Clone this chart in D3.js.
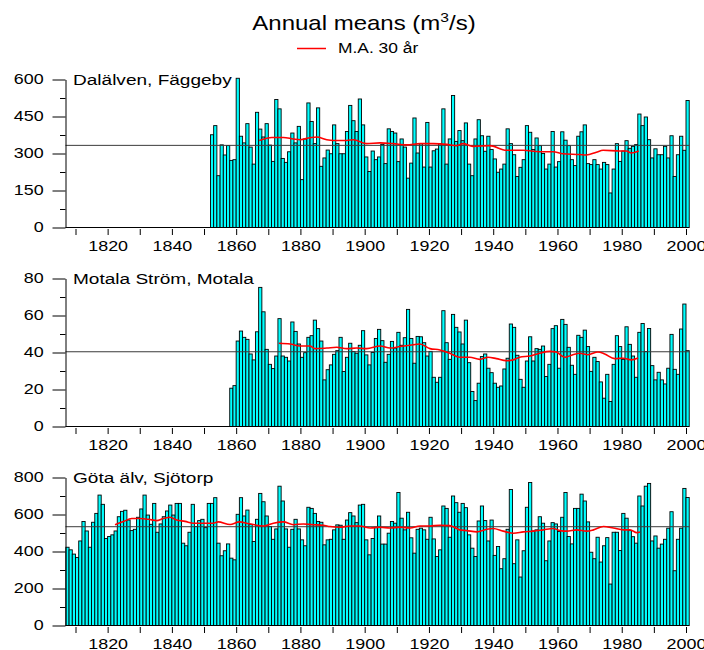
<!DOCTYPE html>
<html>
<head>
<meta charset="utf-8">
<script src="https://cdn.jsdelivr.net/npm/d3@7"></script>
<style>
  body { margin: 0; background: #fff; }
  svg { display: block; font-family: "Liberation Sans", Arial, Helvetica, sans-serif; }
</style>
</head>
<body>
<div id="chart"></div>
<script>
// ---- Annual mean discharge (m3/s) ----

// Dalälven, Fäggeby 1852-2000
const dalStart = 1852;
const dalFlow = [
    376, 413, 210, 335, 294, 332, 272, 275,
    605, 370, 343, 421, 326, 257, 467, 399, 367, 421,
    334, 268, 519, 481, 280, 264, 307, 383, 343, 410,
    194, 359, 505, 430, 340, 485, 248, 282, 314, 299,
    416, 340, 299, 299, 389, 495, 433, 389, 521, 416,
    286, 227, 310, 275, 286, 337, 259, 400, 389, 383,
    267, 359, 326, 200, 261, 444, 302, 340, 245, 426,
    245, 311, 318, 340, 481, 257, 359, 535, 349, 393,
    352, 424, 257, 210, 359, 437, 372, 309, 370, 316,
    278, 224, 237, 257, 400, 340, 295, 207, 244, 275,
    413, 386, 316, 363, 332, 300, 237, 257, 389, 245,
    267, 388, 354, 332, 275, 251, 370, 388, 416, 259,
    255, 275, 255, 237, 264, 255, 140, 237, 340, 268,
    310, 352, 321, 329, 336, 460, 413, 448, 356, 282,
    319, 295, 295, 329, 282, 372, 207, 295, 370, 313,
    515
];
const dalMaYears = [1867.2, 1871.1, 1874.7, 1877.8, 1879.9, 1883.0, 1885.1, 1888.2, 1890.2, 1894.4,
    1896.5, 1900.6, 1904.8, 1908.9, 1913.1, 1917.2, 1921.4, 1925.5, 1928.6, 1930.6, 1933.7, 1938.9,
    1944.1, 1949.3, 1954.5, 1958.6, 1961.7, 1966.9, 1969.0, 1972.1, 1974.2, 1979.4, 1981.4, 1983.0, 1985.3];
const dalMa = [353, 365, 365, 359, 356, 364, 367, 356, 353, 353,
    356, 340, 343, 340, 335, 340, 340, 337, 332, 340, 329, 332,
    313, 313, 307, 307, 299, 296, 294, 305, 313, 310, 310, 302, 310];
const dalMean = 333;

// Motala Ström, Motala 1858-2000
const motStart = 1858;
const motFlow = [
    20.7, 22.1,
    46.2, 51.6, 48.2, 47.1, 39.2, 36.0, 51.2, 75.2, 62.0, 41.7,
    33.6, 31.3, 38.1, 58.3, 38.1, 37.4, 35.4, 56.5, 51.4, 44.6,
    37.4, 39.9, 48.2, 49.1, 57.5, 52.9, 46.2, 25.2, 30.7, 33.3,
    39.0, 41.0, 48.2, 29.7, 37.4, 45.0, 40.5, 39.6, 43.9, 51.8,
    38.7, 33.3, 40.0, 47.6, 52.5, 46.4, 34.7, 39.0, 46.0, 42.4,
    50.9, 43.9, 48.0, 63.3, 47.6, 34.2, 48.7, 48.5, 45.3, 38.1,
    40.6, 26.6, 23.9, 26.6, 62.6, 45.3, 36.3, 60.6, 53.6, 51.1,
    44.6, 57.5, 34.5, 18.9, 14.0, 23.4, 37.8, 39.2, 31.5, 29.1,
    23.4, 21.2, 21.9, 31.1, 36.9, 55.4, 53.6, 38.5, 25.5, 21.2,
    35.4, 48.5, 35.4, 42.1, 41.7, 43.5, 27.0, 33.6, 52.9, 54.5,
    31.5, 57.9, 55.2, 42.8, 33.1, 28.2, 49.3, 48.2, 52.1, 43.2,
    29.8, 37.4, 35.1, 24.1, 15.3, 28.2, 13.5, 33.6, 49.1, 43.2,
    36.3, 53.9, 44.4, 38.1, 26.6, 50.9, 55.7, 40.5, 53.0, 32.9,
    25.2, 29.3, 25.2, 23.0, 31.5, 49.8, 30.9, 28.2, 52.7, 66.2,
    41.0
];
const motMaYears = [1873.3, 1876.8, 1879.9, 1883.0, 1884.5, 1888.2, 1891.3, 1894.4, 1897.5, 1900.6,
    1904.8, 1907.9, 1911.0, 1914.1, 1917.2, 1920.3, 1923.4, 1926.5, 1929.6, 1932.7, 1935.8, 1938.4,
    1941.0, 1944.1, 1946.2, 1948.2, 1951.4, 1954.5, 1957.6, 1959.6, 1962.2, 1964.8, 1966.9, 1969.5,
    1972.6, 1974.7, 1977.8, 1980.4, 1983.0, 1985.1];
const motMa = [45.0, 44.6, 43.5, 43.5, 42.1, 42.4, 42.8, 42.1, 42.4, 42.1,
    43.5, 42.4, 43.2, 43.9, 44.6, 42.1, 41.4, 39.6, 37.4, 37.4, 36.3, 37.4,
    36.7, 35.6, 36.0, 37.4, 38.1, 39.6, 40.6, 40.3, 37.4, 38.8, 39.6, 38.8,
    40.3, 39.2, 36.7, 36.9, 36.0, 37.0];
const motMean = 40.4;

// Göta älv, Sjötorp 1807-2000
const gotStart = 1807;
const gotFlow = [
    423, 409, 386,
    368, 457, 562, 511, 423, 558, 606, 705, 655, 470,
    481, 490, 511, 588, 617, 623, 570, 513, 520, 585,
    630, 705, 597, 547, 660, 504, 549, 588, 619, 651,
    597, 660, 660, 445, 431, 504, 655, 535, 567, 574,
    529, 660, 660, 691, 445, 377, 404, 441, 364, 355,
    601, 691, 592, 624, 547, 454, 574, 714, 669, 592,
    535, 466, 522, 753, 673, 522, 423, 520, 574, 522,
    463, 431, 639, 633, 606, 562, 558, 436, 463, 466,
    517, 544, 542, 466, 570, 610, 592, 556, 651, 655,
    463, 382, 470, 531, 592, 440, 440, 499, 562, 553,
    719, 580, 517, 612, 474, 391, 520, 526, 517, 466,
    585, 468, 373, 409, 646, 633, 477, 700, 664, 612,
    660, 637, 490, 418, 373, 565, 646, 567, 457, 570,
    379, 427, 307, 361, 520, 735, 334, 463, 262, 404,
    639, 773, 511, 517, 588, 553, 350, 457, 556, 549,
    508, 585, 719, 481, 441, 633, 633, 710, 673, 560,
    396, 361, 477, 343, 431, 475, 224, 504, 504, 405,
    606, 580, 513, 480, 445, 700, 646, 753, 768, 457,
    484, 418, 440, 466, 526, 615, 296, 466, 526, 741,
    692
];
const gotMaYears = [1822.3, 1824.9, 1827.5, 1830.1, 1832.7, 1835.3, 1837.3, 1839.4, 1841.5, 1844.1,
    1846.7, 1849.8, 1852.9, 1854.4, 1858.1, 1861.0, 1864.0, 1868.5, 1871.6, 1874.7, 1877.8, 1880.9,
    1884.0, 1887.1, 1889.2, 1892.3, 1895.4, 1898.5, 1901.7, 1904.8, 1907.9, 1911.0, 1914.1, 1917.2,
    1920.3, 1923.4, 1926.5, 1929.6, 1931.8, 1934.9, 1938.0, 1940.0, 1943.1, 1946.3, 1949.4, 1952.5,
    1955.6, 1958.7, 1960.8, 1962.9, 1966.0, 1969.1, 1971.2, 1974.3, 1977.4, 1980.5, 1982.6, 1984.7, 1985.7];
const gotMa = [544, 562, 578, 578, 574, 567, 578, 585, 570, 563,
    553, 553, 553, 560, 546, 560, 550, 538, 553, 560, 545, 549,
    545, 542, 535, 531, 538, 538, 527, 531, 527, 531, 527, 538,
    538, 542, 540, 517, 513, 506, 520, 524, 510, 499, 506, 510,
    517, 524, 513, 510, 517, 510, 517, 535, 527, 517, 517, 502, 506];
const gotMean = 534;

// Axis ticks
const yearTicks = d3.range(1810, 2001, 10);
const yearLabels = [1820, 1840, 1860, 1880, 1900, 1920, 1940, 1960, 1980, 2000];

// ---- layout ----
const width = 704;
const height = 650;
const stretch = 1.28;          // the original text is drawn wide
const axisX = 65.5;
const panelHeight = 148;

const x = d3.scaleLinear().domain([1810, 2000]).range([75.5, 686]);
const rightX = x(2001);

const panels = [
    { name: "Dalälven, Fäggeby", start: dalStart, flow: dalFlow, maYears: dalMaYears, ma: dalMa, mean: dalMean, max: 600, step: 150, base: 227.5 },
    { name: "Motala Ström, Motala", start: motStart, flow: motFlow, maYears: motMaYears, ma: motMa, mean: motMean, max: 80, step: 20, base: 426.5 },
    { name: "Göta älv, Sjötorp", start: gotStart, flow: gotFlow, maYears: gotMaYears, ma: gotMa, mean: gotMean, max: 800, step: 200, base: 625.5 }
];

const svg = d3.select("#chart")
    .append("svg")
    .attr("width", width)
    .attr("height", height);

// Title
const title = svg.append("text")
    .attr("transform", `translate(364,30) scale(1.2,1)`)
    .attr("text-anchor", "middle")
    .style("font-size", "20px")
    .attr("fill", "#000");
title.append("tspan").text("Annual means (m");
title.append("tspan").attr("dy", -8).style("font-size", "13px").text("3");
title.append("tspan").attr("dy", 8).text("/s)");

// Legend
svg.append("line")
    .attr("x1", 297).attr("x2", 326)
    .attr("y1", 48.5).attr("y2", 48.5)
    .attr("stroke", "#ff0000")
    .attr("stroke-width", 1.5);
svg.append("text")
    .attr("transform", `translate(338,53) scale(1.2,1)`)
    .style("font-size", "14.5px")
    .text("M.A. 30 år");

const drawPanel = (p) => {
    const y = d3.scaleLinear()
        .domain([0, p.max])
        .range([p.base, p.base - panelHeight]);

    const g = svg.append("g");

    const bars = p.flow.map((v, i) => ({ year: p.start + i, value: v }));

    // Bars
    g.selectAll("rect")
        .data(bars)
        .join("rect")
        .attr("x", d => x(d.year))
        .attr("width", d => x(d.year + 1) - x(d.year))
        .attr("y", d => y(d.value))
        .attr("height", d => p.base - y(d.value))
        .attr("fill", "#00ffff")
        .attr("stroke", "#000")
        .attr("stroke-width", 0.9);

    // Long-term mean
    g.append("line")
        .attr("x1", axisX).attr("x2", rightX)
        .attr("y1", y(p.mean)).attr("y2", y(p.mean))
        .attr("stroke", "#3a3a3a")
        .attr("stroke-width", 1);

    // 30 year moving average
    const ma = p.maYears.map((yr, i) => [yr, p.ma[i]]);
    g.append("path")
        .datum(ma)
        .attr("fill", "none")
        .attr("stroke", "#ff0000")
        .attr("stroke-width", 1.6)
        .attr("d", d3.line()
            .x(d => x(d[0]))
            .y(d => y(d[1]))
            .curve(d3.curveMonotoneX));

    // Baseline
    g.append("line")
        .attr("x1", axisX).attr("x2", rightX)
        .attr("y1", p.base).attr("y2", p.base)
        .attr("stroke", "#000");

    // Left axis: major ticks with labels, minor ticks between
    const majorAxis = d3.axisLeft(y)
        .tickValues(d3.range(0, p.max + 1, p.step))
        .tickSize(13)
        .tickSizeOuter(0)
        .tickPadding(4);
    const yAxisG = g.append("g")
        .attr("transform", `translate(${axisX},0)`)
        .call(majorAxis);
    yAxisG.selectAll("text")
        .attr("transform", `scale(${stretch},1)`)
        .style("font-size", "14px");

    const minorAxis = d3.axisLeft(y)
        .tickValues(d3.range(p.step / 2, p.max, p.step))
        .tickSize(5.5)
        .tickFormat("");
    const minorG = g.append("g")
        .attr("transform", `translate(${axisX},0)`)
        .call(minorAxis);
    minorG.select(".domain").remove();

    // Bottom axis: ticks every 10 years, labels every 20
    const bottomAxis = d3.axisBottom(x)
        .tickValues(yearTicks)
        .tickSize(6)
        .tickPadding(6)
        .tickFormat(d => yearLabels.includes(d) ? d : "");
    const xAxisG = g.append("g")
        .attr("transform", `translate(0,${p.base + 1.5})`)
        .call(bottomAxis);
    xAxisG.select(".domain").remove();
    xAxisG.selectAll("text")
        .attr("transform", `scale(${stretch},1)`)
        .style("font-size", "14px");

    g.selectAll(".tick line").attr("stroke", "#000");
    g.selectAll(".domain").attr("stroke", "#000");
    g.selectAll(".tick text").attr("fill", "#000").style("font-family", "\"Liberation Sans\", Arial, sans-serif");

    // Station name
    g.append("text")
        .attr("transform", `translate(73,${p.base - panelHeight + 5.5}) scale(1.36,1)`)
        .style("font-size", "14px")
        .text(p.name);
};

panels.forEach(drawPanel);
</script>
</body>
</html>
